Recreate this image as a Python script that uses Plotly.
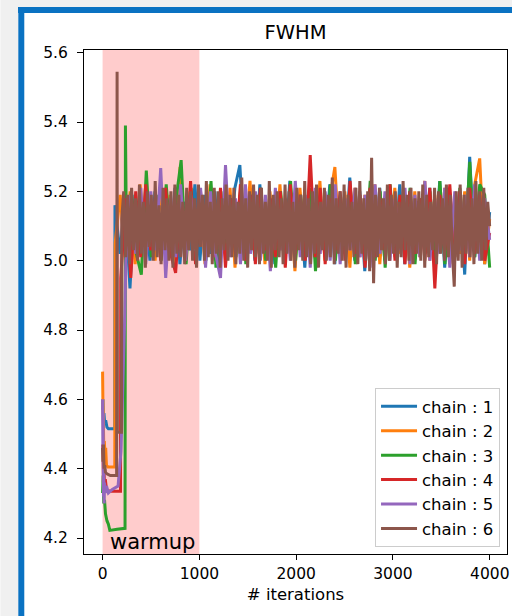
import numpy as np
import plotly.graph_objects as go

# ---------------- data ----------------
chain_names = ["chain : 1", "chain : 2", "chain : 3", "chain : 4", "chain : 5", "chain : 6"]
chain_colors = ["#1f77b4", "#ff7f0e", "#2ca02c", "#d62728", "#9467bd", "#8c564b"]

warm_it_1 = [0, 4, 8, 14, 22, 32, 45, 60, 126]
warm_v_1 = [4.57, 4.60, 4.54, 4.56, 4.53, 4.54, 4.52, 4.515, 4.515]
warm_it_2 = [0, 3, 7, 12, 18, 25, 32, 40, 55, 126]
warm_v_2 = [4.68, 4.60, 4.55, 4.47, 4.48, 4.44, 4.46, 4.41, 4.405, 4.405]
warm_it_3 = [0, 6, 12, 20, 30, 45, 60, 75, 150, 232, 236]
warm_v_3 = [4.33, 4.38, 4.30, 4.31, 4.27, 4.25, 4.24, 4.222, 4.225, 4.228, 5.39]
warm_it_4 = [0, 4, 8, 14, 20, 28, 40, 75, 185]
warm_v_4 = [4.47, 4.44, 4.36, 4.40, 4.35, 4.37, 4.34, 4.335, 4.335]
warm_it_5 = [0, 3, 6, 9, 12, 16, 20, 28, 40, 60, 100, 160, 190, 215, 230]
warm_v_5 = [4.60, 4.45, 4.56, 4.32, 4.40, 4.30, 4.36, 4.33, 4.35, 4.33, 4.34, 4.35, 4.45, 4.70, 4.85]
warm_it_6 = [0, 4, 9, 15, 22, 30, 45, 80, 145, 150, 153, 195]
warm_v_6 = [4.46, 4.42, 4.47, 4.40, 4.41, 4.39, 4.385, 4.38, 4.38, 5.545, 4.505, 4.505]

trace_start = [128, 130, 246, 188, 240, 198]

trace_v_1 = [
    5.16, 5.02, 5.18, 4.92, 5.19, 5.03, 5.17, 5.00, 5.20, 5.04,
    5.18, 5.01, 5.21, 4.99, 5.17, 5.03, 5.22, 5.00, 5.19, 5.02,
    5.20, 4.98, 5.18, 5.04, 5.21, 5.276, 5.01, 5.19, 5.00, 5.22,
    5.03, 5.18, 4.99, 5.20, 5.02, 5.23, 5.00, 5.17, 4.98, 5.21,
    5.01, 5.19, 5.03, 5.22, 4.99, 5.18, 5.02, 5.24, 5.00, 5.20,
    4.97, 5.19, 5.03, 5.21, 5.00, 5.18, 5.02, 5.22, 4.99, 5.20,
    5.01, 5.17, 5.04, 5.21, 5.00, 5.23, 4.98, 5.19, 5.02, 5.20,
    4.96, 5.30, 5.01, 5.21, 4.99, 5.14,
]
trace_v_2 = [
    5.05, 5.19, 5.01, 5.20, 4.99, 5.22, 5.03, 5.18, 5.00, 5.21,
    5.02, 5.19, 4.98, 5.27, 5.01, 5.20, 5.03, 5.18, 4.99, 5.22,
    5.00, 5.17, 5.02, 5.21, 4.98, 5.19, 5.03, 5.23, 5.01, 5.18,
    4.99, 5.20, 5.02, 5.22, 5.00, 5.18, 4.97, 5.21, 5.03, 5.19,
    5.01, 5.23, 5.00, 5.18, 5.27, 5.02, 5.20, 4.98, 5.21, 5.01,
    5.19, 5.03, 5.22, 4.99, 5.18, 5.00, 5.21, 5.02, 5.17, 4.98,
    5.20, 5.01, 5.23, 5.00, 5.19, 5.03, 5.21, 4.99, 5.18, 5.02,
    5.20, 5.00, 5.22, 5.295, 4.99, 5.12,
]
trace_v_3 = [
    5.08, 5.20, 5.02, 4.96, 5.26, 5.01, 5.19, 5.00, 5.22, 5.03,
    5.18, 5.29, 4.99, 5.21, 5.02, 5.19, 5.00, 5.23, 4.98, 5.20,
    5.03, 5.18, 5.01, 5.22, 4.99, 5.19, 5.02, 5.21, 5.00, 5.17,
    4.98, 5.20, 5.03, 5.23, 5.00, 5.19, 5.02, 5.21, 4.97, 5.18,
    5.01, 5.22, 5.00, 5.19, 5.03, 5.21, 4.99, 5.18, 5.02, 5.23,
    5.00, 5.20, 4.98, 5.22, 5.01, 5.19, 5.03, 5.21, 4.99, 5.18,
    5.02, 5.20, 5.00, 5.23, 4.99, 5.19, 5.01, 5.21, 5.03, 5.285,
    5.01, 5.22, 5.19, 4.98,
]
trace_v_4 = [
    4.95, 5.18, 4.95, 5.20, 5.01, 5.22, 5.03, 5.19, 5.00, 5.21,
    5.02, 4.965, 5.18, 5.00, 5.23, 4.99, 5.20, 5.03, 5.19, 5.01,
    5.21, 4.98, 5.18, 5.02, 5.22, 5.00, 5.19, 4.99, 5.21, 5.03,
    5.18, 5.01, 5.20, 4.98, 5.22, 5.02, 5.19, 5.00, 5.305, 5.01,
    5.21, 4.99, 5.18, 5.03, 5.20, 5.00, 5.23, 5.02, 5.19, 4.98,
    5.21, 5.01, 5.18, 5.03, 5.22, 5.00, 5.19, 4.99, 5.20, 5.02,
    5.18, 5.00, 5.21, 4.92, 5.19, 5.03, 5.22, 5.01, 5.20, 4.99,
    5.21, 5.02, 5.19, 5.00, 5.08,
]
trace_v_5 = [
    5.00, 5.19, 5.02, 5.21, 4.99, 5.20, 5.03, 5.267, 4.95, 5.18,
    5.01, 5.22, 5.00, 5.19, 5.03, 5.21, 4.98, 5.20, 5.02, 4.95,
    5.276, 5.01, 5.18, 4.99, 5.22, 5.02, 5.20, 5.00, 5.19, 4.97,
    5.21, 5.03, 5.18, 5.00, 5.23, 5.01, 5.19, 4.98, 5.21, 5.02,
    5.20, 5.00, 5.22, 4.99, 5.18, 5.03, 5.21, 5.01, 5.19, 4.98,
    5.22, 5.02, 5.20, 5.00, 5.18, 5.03, 5.21, 4.99, 5.19, 5.01,
    5.23, 5.00, 5.18, 5.02, 5.21, 4.98, 5.20, 5.03, 5.19, 5.01,
    5.22, 5.00, 5.18, 5.06,
]
trace_v_6 = [
    5.12, 5.20, 5.01, 5.19, 4.99, 5.21, 5.03, 5.18, 5.00, 5.22,
    5.02, 5.17, 4.98, 5.20, 5.04, 5.19, 5.00, 5.23, 5.01, 5.16,
    4.99, 5.21, 5.03, 5.18, 5.00, 5.20, 4.98, 5.22, 5.02, 5.19,
    5.01, 5.17, 4.99, 5.21, 5.03, 5.20, 5.00, 5.18, 4.98, 5.22,
    5.04, 5.19, 5.00, 5.23, 5.01, 5.17, 4.99, 5.21, 5.02, 5.20,
    4.98, 5.18, 5.03, 5.22, 5.00, 5.19, 5.01, 5.21, 4.99, 5.17,
    5.02, 5.24, 5.00, 5.18, 4.98, 5.20, 5.03, 5.22, 5.01, 5.19,
    4.99, 5.21, 5.02, 5.17, 5.00, 5.23, 4.98, 5.19, 5.03, 5.20,
    5.01, 5.18, 4.99, 5.22, 5.02, 5.20, 5.00, 5.17, 4.98, 5.21,
    5.03, 5.19, 5.00, 5.23, 5.01, 5.18, 4.99, 5.20, 5.02, 5.22,
    4.98, 5.17, 5.03, 5.21, 5.00, 5.19, 5.01, 5.24, 4.99, 5.18,
    5.02, 5.20, 5.00, 5.22, 4.98, 5.19, 5.03, 5.17, 5.01, 5.21,
    4.99, 5.23, 5.02, 5.18, 5.00, 5.20, 4.97, 5.297, 4.935, 5.19,
    5.01, 5.21, 5.03, 5.18, 4.99, 5.22, 5.00, 5.19, 5.02, 5.20,
    4.98, 5.17, 5.01, 5.23, 5.03, 5.19, 5.00, 5.21, 4.99, 5.18,
    5.02, 5.20, 5.00, 5.22, 4.98, 5.19, 5.01, 5.17, 5.03, 5.21,
    4.99, 5.20, 5.02, 5.18, 5.00, 5.22, 5.01, 5.19, 5.03, 4.925,
    5.20, 5.00, 5.22, 4.98, 5.19, 5.02, 5.21, 5.01, 5.18, 4.99,
    5.23, 5.02, 5.20, 5.00, 5.21, 5.03, 5.17, 5.10,
]
last_iteration = 3999
warmup_end = 1000

x_ticks = [0, 1000, 2000, 3000, 4000]
y_ticks = [4.2, 4.4, 4.6, 4.8, 5.0, 5.2, 5.4, 5.6]

warm_its = [warm_it_1, warm_it_2, warm_it_3, warm_it_4, warm_it_5, warm_it_6]
warm_vals = [warm_v_1, warm_v_2, warm_v_3, warm_v_4, warm_v_5, warm_v_6]
trace_vals = [trace_v_1, trace_v_2, trace_v_3, trace_v_4, trace_v_5, trace_v_6]

W, H = 512, 616
L, R, T, B = 84, 3, 50, 62
pw, ph = W - L - R, H - T - B


def px_x(px):
    return (px - L) / pw


def px_y(py):
    return (H - B - py) / ph


fig = go.Figure()

for k in range(6):
    xs_trace = np.linspace(trace_start[k], last_iteration, len(trace_vals[k]))
    xs = list(warm_its[k]) + list(xs_trace)
    ys = list(warm_vals[k]) + list(trace_vals[k])
    fig.add_trace(go.Scatter(
        x=xs, y=ys, mode="lines", name=chain_names[k],
        line=dict(color=chain_colors[k], width=3, simplify=False),
    ))


def frame_rect(x0, x1, y0, y1, color):
    return dict(type="rect", xref="paper", yref="paper",
                x0=px_x(x0), x1=px_x(x1), y0=px_y(y1), y1=px_y(y0),
                fillcolor=color, line=dict(width=0, color=color), layer="below")


def frame_strip(x0, y0, w, h, color):
    # horizontal frame strip drawn as an empty annotation box
    return dict(text=" ", xref="paper", yref="paper", x=px_x(x0), y=px_y(y0),
                xanchor="left", yanchor="top", showarrow=False, width=w, height=h,
                bgcolor=color, borderpad=0, borderwidth=0, font=dict(size=1))


shapes = [
    frame_rect(0, 18, 0, H, "#f0f0f0"),
    frame_rect(18, 24, 7, H, "#0a72c2"),
    dict(type="rect", xref="x", yref="paper", x0=0, x1=warmup_end, y0=0, y1=1,
         fillcolor="rgba(255,0,0,0.2)", line_width=0, layer="below"),
]

fig.update_layout(
    width=W, height=H,
    margin=dict(l=L, r=R, t=T, b=B, pad=0),
    paper_bgcolor="white", plot_bgcolor="white",
    font=dict(family="DejaVu Sans", color="black"),
    title=dict(text="FWHM", x=px_x((L + W - R) / 2), xref="paper", xanchor="center",
               y=1 - 32 / H, yref="container", yanchor="middle",
               font=dict(size=19.5, family="DejaVu Sans", color="black")),
    shapes=shapes,
    showlegend=True,
    legend=dict(x=px_x(502), y=px_y(547), xanchor="right", yanchor="bottom",
                bgcolor="rgba(255,255,255,0.8)", bordercolor="#cccccc", borderwidth=1,
                font=dict(size=16.5, family="DejaVu Sans", color="black"),
                itemwidth=36, tracegroupgap=0),
    annotations=[
        dict(text="warmup", x=55, y=4.188, xref="x", yref="y", xanchor="left", yanchor="middle",
             showarrow=False, font=dict(size=21, family="DejaVu Sans", color="black")),
        frame_strip(18, 0, W - 18, 7, "#f0f0f0"),
        frame_strip(18, 7, W - 18, 6, "#0a72c2"),
    ],
)

fig.update_xaxes(
    range=[-192, 4178], tickvals=x_ticks, ticktext=[str(v) for v in x_ticks],
    showgrid=False, zeroline=False, showline=True, linecolor="black", linewidth=1,
    mirror=True, ticks="outside", ticklen=5, tickcolor="black", tickwidth=1,
    tickfont=dict(size=15.5, family="DejaVu Sans", color="black"),
    title=dict(text="# iterations", font=dict(size=16.5, family="DejaVu Sans", color="black"), standoff=6),
)
fig.update_yaxes(
    range=[4.1539, 5.6078], tickvals=y_ticks, ticktext=[f"{v:.1f}" for v in y_ticks],
    showgrid=False, zeroline=False, showline=True, linecolor="black", linewidth=1,
    mirror=True, ticks="outside", ticklen=6, tickcolor="black", tickwidth=1,
    tickfont=dict(size=15.5, family="DejaVu Sans", color="black"),
    ticklabelstandoff=6,
)

fig.write_html("out.html")
